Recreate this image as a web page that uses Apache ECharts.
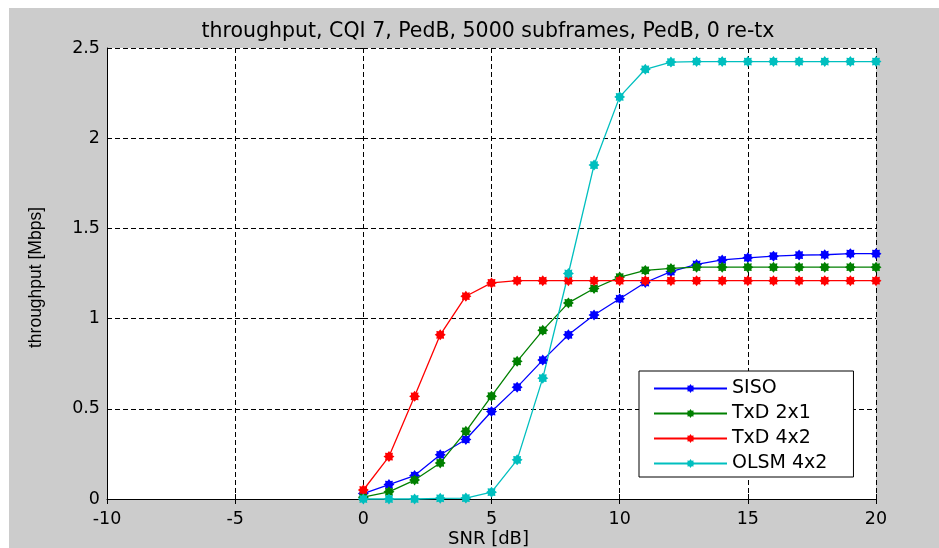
<!DOCTYPE html>
<html>
<head>
<meta charset="utf-8">
<script src="https://cdn.jsdelivr.net/npm/echarts@6/dist/echarts.min.js"></script>
<style>
html,body{margin:0;padding:0;background:#ffffff;}
#chart{position:absolute;left:9px;top:8px;width:930px;height:540px;}
</style>
</head>
<body>
<div id="chart"></div>
<script>
const snr = [0,1,2,3,4,5,6,7,8,9,10,11,12,13,14,15,16,17,18,19,20];
const siso   = [0.03,0.08,0.13,0.245,0.33,0.485,0.62,0.77,0.91,1.02,1.11,1.2,1.26,1.3,1.325,1.337,1.346,1.352,1.354,1.36,1.36];
const txd2x1 = [0.01,0.04,0.105,0.2,0.375,0.57,0.763,0.935,1.087,1.167,1.23,1.267,1.278,1.285,1.285,1.285,1.285,1.285,1.285,1.285,1.285];
const txd4x2 = [0.05,0.235,0.569,0.91,1.124,1.198,1.21,1.21,1.21,1.21,1.21,1.21,1.21,1.21,1.21,1.21,1.21,1.21,1.21,1.21,1.21];
const olsm4x2= [0.0,0.0,0.0,0.004,0.005,0.038,0.217,0.67,1.25,1.851,2.229,2.382,2.422,2.425,2.425,2.425,2.425,2.425,2.425,2.425,2.425];
const seriesNames = ['SISO','TxD 2x1','TxD 4x2','OLSM 4x2'];
const seriesColors = ['#0000ff','#008000','#ff0000','#00bfbf'];
const xTicks = {min:-10, max:20, interval:5};
const yTicks = {min:0, max:2.5, interval:0.5};

const star = 'path://M20 10 L16.47 12.68 L17.07 17.07 L12.68 16.47 L10 20 L7.32 16.47 L2.93 17.07 L3.53 12.68 L0 10 L3.53 7.32 L2.93 2.93 L7.32 3.53 L10 0 L12.68 3.53 L17.07 2.93 L16.47 7.32 Z';
const font = 'DejaVu Sans';
const chart = echarts.init(document.getElementById('chart'));
const dataSets = [siso, txd2x1, txd4x2, olsm4x2];
const gridLine = {show:true, lineStyle:{color:'#000', width:1, type:[5,3]}};
const tick = {show:true, inside:true, length:5, lineStyle:{color:'#000', width:1}};

chart.setOption({
  backgroundColor:'#cccccc',
  animation:false,
  title:{
    text:'throughput, CQI 7, PedB, 5000 subframes, PedB, 0 re-tx',
    left:474, top:8, textAlign:'center',
    textStyle:{fontFamily:font, fontSize:20.5, fontWeight:'normal', color:'#000'}
  },
  grid:{left:98, top:40, width:769, height:451, show:true, backgroundColor:'#ffffff', borderWidth:0, outerBoundsMode:'none', containLabel:false},
  legend:{
    left:630, top:363, orient:'vertical',
    backgroundColor:'#ffffff', borderColor:'#000', borderWidth:1, borderRadius:0,
    padding:[8,26,4,14], itemGap:6, itemWidth:73, itemHeight:11,
    textStyle:{fontFamily:font, fontSize:19, color:'#000', lineHeight:17},
    data:seriesNames
  },
  xAxis:[{
    type:'value', min:xTicks.min, max:xTicks.max, interval:xTicks.interval,
    name:'SNR [dB]', nameLocation:'middle', nameGap:31, nameMoveOverlap:false,
    nameTextStyle:{fontFamily:font, fontSize:18, color:'#000', padding:[0,6,0,0]},
    axisLine:{show:true, onZero:false, lineStyle:{color:'#000', width:1}},
    axisTick:tick,
    axisLabel:{fontFamily:font, fontSize:17.5, color:'#000', margin:11},
    splitLine:gridLine
  },{
    type:'value', position:'top', min:xTicks.min, max:xTicks.max, interval:xTicks.interval,
    axisLine:{show:false}, axisTick:tick, axisLabel:{show:false}, splitLine:{show:false}
  }],
  yAxis:[{
    type:'value', min:yTicks.min, max:yTicks.max, interval:yTicks.interval,
    name:'throughput [Mbps]', nameLocation:'middle', nameGap:62, nameMoveOverlap:false,
    nameTextStyle:{fontFamily:'Liberation Sans', fontSize:17.5, color:'#000', padding:[0,8,0,0]},
    axisLine:{show:true, onZero:false, lineStyle:{color:'#000', width:1}},
    axisTick:tick,
    axisLabel:{fontFamily:font, fontSize:17.5, color:'#000', margin:7},
    splitLine:gridLine
  },{
    type:'value', position:'right', min:yTicks.min, max:yTicks.max, interval:yTicks.interval,
    axisLine:{show:false}, axisTick:tick, axisLabel:{show:false}, splitLine:{show:false}
  }],
  series: dataSets.map((d,i)=>({
    name:seriesNames[i], type:'line',
    data: snr.map((x,j)=>[x,d[j]]),
    symbol:star, symbolSize:11, showSymbol:true,
    color:seriesColors[i],
    lineStyle:{color:seriesColors[i], width:1.3},
    itemStyle:{color:seriesColors[i]},
    clip:false
  }))
});
</script>
</body>
</html>
